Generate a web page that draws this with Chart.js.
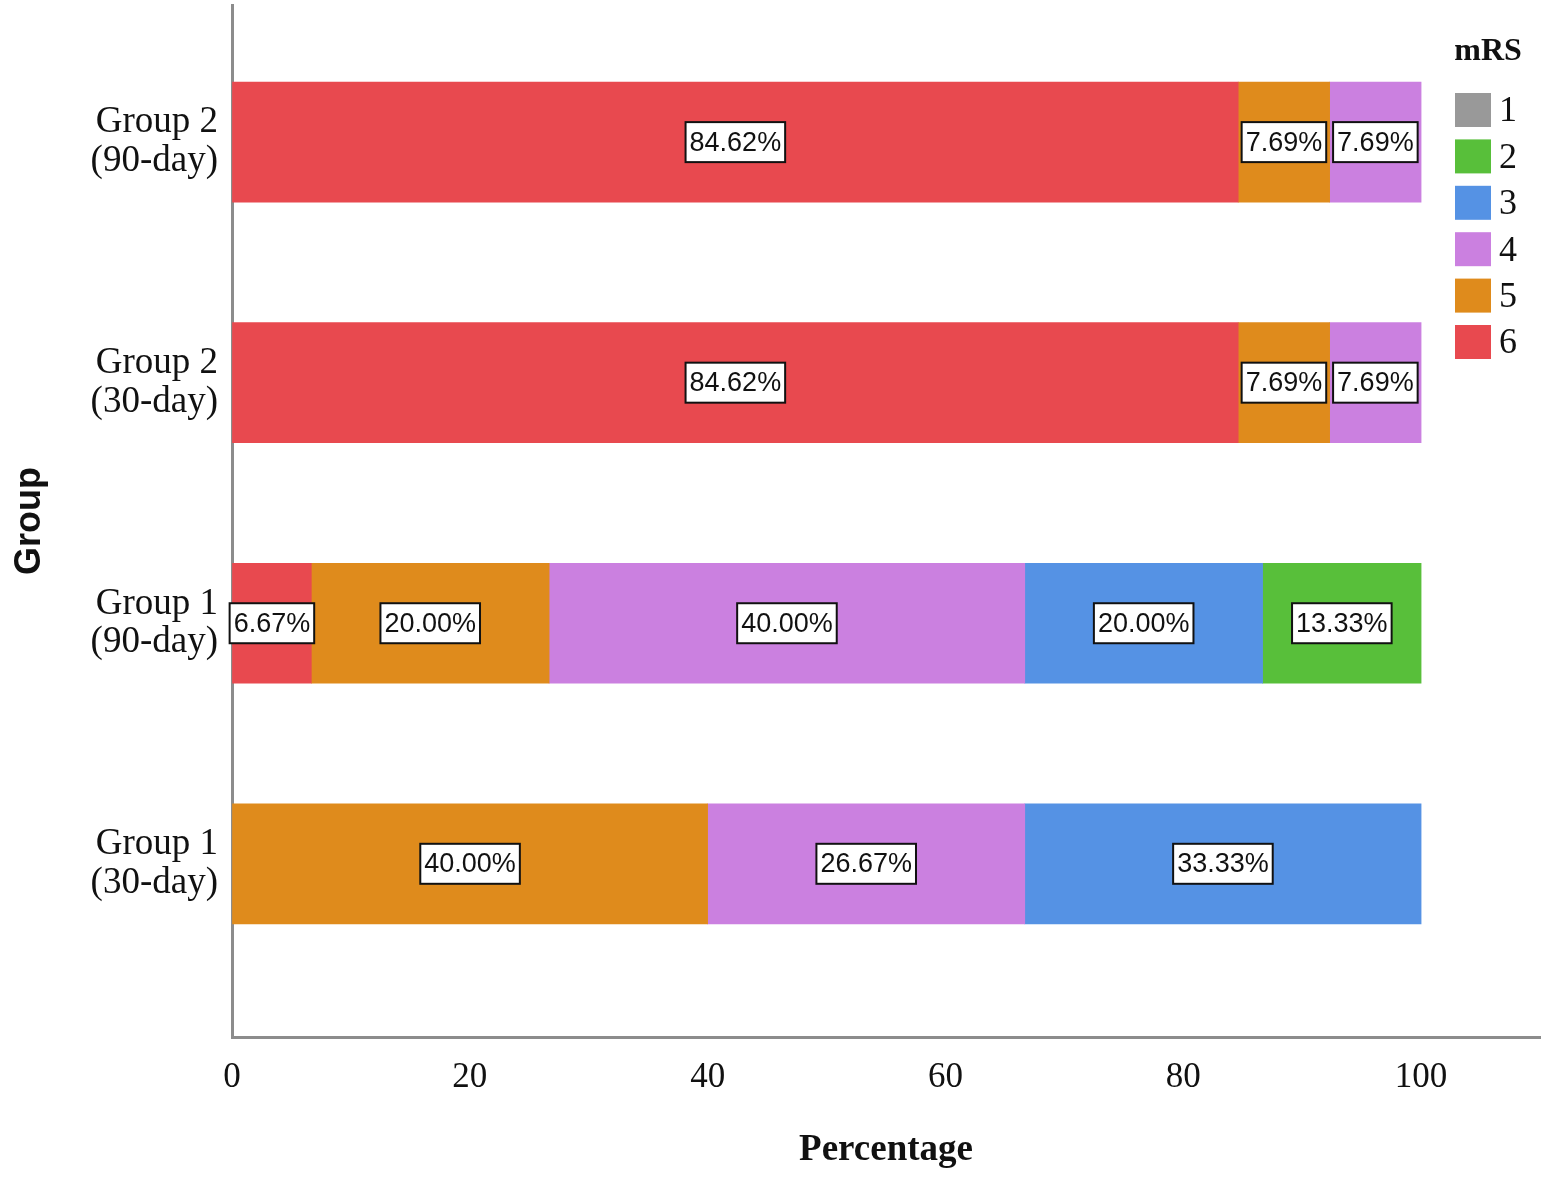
<!DOCTYPE html>
<html>
<head>
<meta charset="utf-8">
<script src="https://cdn.jsdelivr.net/npm/chart.js@4/dist/chart.umd.min.js"></script>
<style>
  html, body { margin: 0; padding: 0; background: #fff; }
  #wrap { width: 1547px; height: 1178px; }
</style>
</head>
<body>
<div id="wrap"><canvas id="c" width="1547" height="1178"></canvas></div>
<script>
// categories, top to bottom as in the picture
var categories = [
    ['Group 2', '(90-day)'],
    ['Group 2', '(30-day)'],
    ['Group 1', '(90-day)'],
    ['Group 1', '(30-day)']
];

// percentages per mRS level, same order as categories
var mrs6 = [84.62, 84.62, 6.67, 0];
var mrs5 = [7.69, 7.69, 20.00, 40.00];
var mrs4 = [7.69, 7.69, 40.00, 26.67];
var mrs3 = [0, 0, 20.00, 33.33];
var mrs2 = [0, 0, 13.33, 0];
var mrs1 = [0, 0, 0, 0];

var xTicks = [0, 20, 40, 60, 80, 100];

var colors = {
    '1': '#999999',
    '2': '#58bf3a',
    '3': '#5592e4',
    '4': '#cb80e0',
    '5': '#df8b1c',
    '6': '#e8494f'
};

function points(values) {
    // y position: bottom category = 0
    return values.map(function (v, i) {
        return { x: v > 0 ? v : null, y: categories.length - 1 - i };
    });
}

function ds(name, values) {
    return {
        label: name,
        data: points(values),
        backgroundColor: colors[name],
        borderWidth: 0,
        barThickness: 120
    };
}

var serif = '"Liberation Serif", "Times New Roman", serif';
var sans = '"Liberation Sans", Arial, sans-serif';

var labelPlugin = {
    id: 'pctLabels',
    afterDatasetsDraw: function (chart) {
        var ctx = chart.ctx;
        ctx.save();
        ctx.font = '27px ' + sans;
        ctx.textAlign = 'center';
        ctx.textBaseline = 'middle';
        chart.data.datasets.forEach(function (d, di) {
            var meta = chart.getDatasetMeta(di);
            meta.data.forEach(function (bar, i) {
                var v = d.data[i].x;
                if (!v) return;
                var txt = v.toFixed(2) + '%';
                var cx = (bar.x + bar.base) / 2;
                var cy = bar.y;
                var w = ctx.measureText(txt).width + 8;
                var h = 40;
                ctx.fillStyle = '#fff';
                ctx.fillRect(cx - w / 2, cy - h / 2, w, h);
                ctx.lineWidth = 2;
                ctx.strokeStyle = '#111';
                ctx.strokeRect(cx - w / 2, cy - h / 2, w, h);
                ctx.fillStyle = '#111';
                ctx.fillText(txt, cx, cy + 1);
            });
        });
        ctx.restore();
    }
};

var legendPlugin = {
    id: 'mrsLegend',
    afterDraw: function (chart) {
        var ctx = chart.ctx;
        var x0 = chart.chartArea.right - 85;
        ctx.save();
        ctx.fillStyle = '#111';
        ctx.textAlign = 'center';
        ctx.textBaseline = 'middle';
        ctx.font = 'bold 32px ' + serif;
        ctx.fillText('mRS', x0 + 33, 52);
        var ds = chart.data.datasets.slice().reverse();
        ds.forEach(function (d, i) {
            var cy = 110 + i * 46.4;
            ctx.fillStyle = d.backgroundColor;
            ctx.fillRect(x0, cy - 17, 36, 34);
            ctx.fillStyle = '#111';
            ctx.textAlign = 'left';
            ctx.font = '36px ' + serif;
            ctx.fillText(d.label, x0 + 44, cy + 2);
        });
        ctx.restore();
    }
};

new Chart(document.getElementById('c').getContext('2d'), {
    type: 'bar',
    data: {
        datasets: [
            ds('6', mrs6),
            ds('5', mrs5),
            ds('4', mrs4),
            ds('3', mrs3),
            ds('2', mrs2),
            ds('1', mrs1)
        ]
    },
    options: {
        responsive: false,
        animation: false,
        indexAxis: 'y',
        layout: { padding: { top: 5, right: 7, left: 0, bottom: 5 } },
        plugins: {
            legend: { display: false },
            tooltip: { enabled: false }
        },
        scales: {
            x: {
                type: 'linear',
                stacked: true,
                min: 0,
                max: 110,
                afterBuildTicks: function (s) {
                    s.ticks = xTicks.map(function (v) { return { value: v }; });
                },
                afterFit: function (s) { s.height = 136; },
                grid: { drawOnChartArea: false, drawTicks: false },
                border: { display: true, color: '#8c8c8c', width: 3 },
                ticks: {
                    color: '#111',
                    padding: 20,
                    font: { family: serif, size: 35 }
                },
                title: {
                    display: true,
                    text: 'Percentage',
                    color: '#111',
                    padding: { top: 0, bottom: 0 },
                    font: { family: serif, size: 37, weight: 'bold' }
                }
            },
            y: {
                type: 'linear',
                stacked: true,
                offset: false,
                min: -0.72,
                max: 3.57,
                afterBuildTicks: function (s) {
                    s.ticks = categories.map(function (c, i) { return { value: i }; });
                },
                afterFit: function (s) {
                    s.width = 232;
                    s.paddingTop = 0;
                    s.paddingBottom = 0;
                },
                grid: { drawOnChartArea: false, drawTicks: false },
                border: { display: true, color: '#8c8c8c', width: 3 },
                ticks: {
                    color: '#111',
                    padding: 14,
                    font: { family: serif, size: 37, lineHeight: 1.05 },
                    callback: function (v) {
                        return categories[categories.length - 1 - v];
                    }
                },
                title: {
                    display: true,
                    text: 'Group',
                    color: '#111',
                    padding: { top: 8, bottom: 0 },
                    font: { family: sans, size: 36, weight: 'bold' }
                }
            }
        }
    },
    plugins: [labelPlugin, legendPlugin]
});
</script>
</body>
</html>
